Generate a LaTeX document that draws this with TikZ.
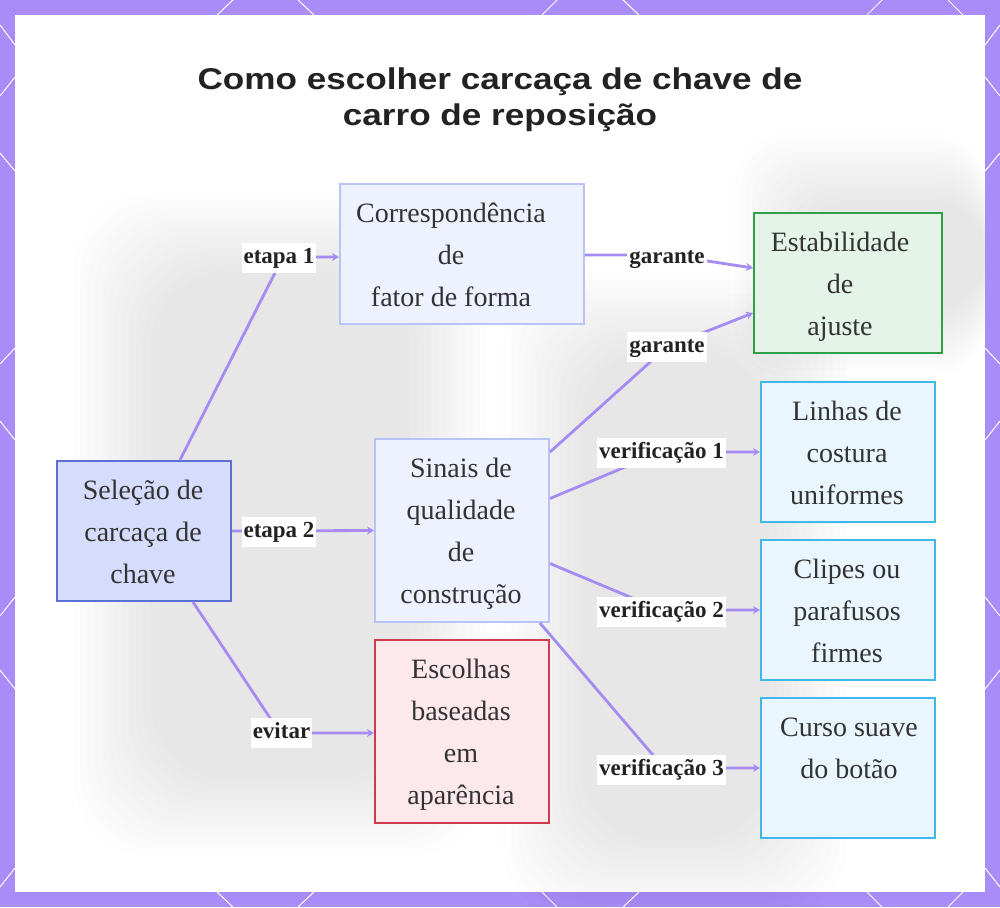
\documentclass[tikz,border=0pt]{standalone}
\usepackage{fontspec}
\usepackage{graphicx}
\setmainfont{Liberation Serif}
\newfontfamily\sansf{Liberation Sans}
\usetikzlibrary{arrows.meta,calc}
\definecolor{bord}{HTML}{A98CF8}
\definecolor{edgec}{HTML}{A58BF2}
\definecolor{aFill}{HTML}{D6DCFB}
\definecolor{aDraw}{HTML}{5B6FD6}
\definecolor{bFill}{HTML}{EEF1FE}
\definecolor{bDraw}{HTML}{BAC3F7}
\definecolor{cFill}{HTML}{E5F4E8}
\definecolor{cDraw}{HTML}{2FA04A}
\definecolor{eFill}{HTML}{FDE9EC}
\definecolor{eDraw}{HTML}{D03A4D}
\definecolor{fFill}{HTML}{EAF6FD}
\definecolor{fDraw}{HTML}{41B8EA}
\definecolor{txtc}{HTML}{333333}
\definecolor{labc}{HTML}{222222}
\tikzset{
  bx/.style={draw, line width=2pt, inner sep=0pt},
  bxA/.style={bx, fill=aFill, draw=aDraw, minimum width=174pt, minimum height=140pt},
  bxB/.style={bx, fill=bFill, draw=bDraw},
  bxC/.style={bx, fill=cFill, draw=cDraw, minimum width=188pt, minimum height=140pt},
  bxE/.style={bx, fill=eFill, draw=eDraw, minimum width=174pt, minimum height=183pt},
  bxF/.style={bx, fill=fFill, draw=fDraw, minimum width=174pt, minimum height=140pt},
  btxt/.style={anchor=north, align=center, inner sep=0pt, font=\fontsize{28}{42}\selectfont, text=txtc},
  lab/.style={fill=white, inner xsep=2pt, inner ysep=4.5pt, text height=16pt, text depth=5pt, font=\bfseries\fontsize{23}{23}\selectfont, text=labc},
  conn/.style={draw=edgec, line width=2.8pt, -{Stealth[length=7pt,width=8pt]}},
  hexl/.style={draw=white, line width=1pt},
  blob/.style={fill=black, opacity=0.006},
}
\begin{document}
\begin{tikzpicture}[x=1pt,y=-1pt]
\useasboundingbox (0,0) rectangle (1000,907);
% frame
\fill[bord] (0,0) rectangle (1000,907);
\draw[hexl] (217,15)--(233,0) (298,0)--(314,15) (542,15)--(557,0) (623,0)--(639,15) (867,15)--(882,0) (948,0)--(963,15);
\draw[hexl] (217,892)--(233,907) (298,907)--(314,892) (542,892)--(557,907) (623,907)--(639,892) (867,892)--(882,907) (948,907)--(963,892);
\draw[hexl] (0,25)--(15,45) (0,96)--(15,77) (0,153)--(15,171) (0,364)--(15,348) (0,421)--(15,440) (0,616)--(15,597) (0,670)--(15,689) (0,887)--(15,868);
\draw[hexl] (1000,25)--(985,45) (1000,96)--(985,77) (1000,153)--(985,171) (1000,364)--(985,348) (1000,421)--(985,440) (1000,616)--(985,597) (1000,670)--(985,689) (1000,887)--(985,868);
\fill[white] (15,15) rectangle (985,892);
% faint background
\foreach \i in {0,...,11} {
  \fill[blob, rounded corners=80pt] (150-\i*7,270-\i*7) rectangle (410+\i*7,780+\i*7);
  \fill[blob, rounded corners=70pt] (580-\i*7,350-\i*7) rectangle (770+\i*7,840+\i*7);
  \fill[blob, rounded corners=50pt] (800-\i*6,200-\i*6) rectangle (985,310+\i*6);
}
% title
\node[anchor=north, align=center, inner sep=0pt, text=labc, font=\sansf\bfseries\fontsize{30}{36}\selectfont] (title) at (500,63.8)
  {\strut\scalebox{1.17}[1]{Como escolher carcaça de chave de}\\\scalebox{1.17}[1]{carro de reposição}};
% boxes
\node[bxA] (sel) at (144,531) {};
\node[bxB, minimum width=244pt, minimum height=140pt] (corr) at (462,254) {};
\node[bxC] (est) at (848,283) {};
\node[bxB, minimum width=174pt, minimum height=183pt] (sd) at (462,530.5) {};
\node[bxE] (esc) at (462,731.5) {};
\node[bxF] (lin) at (848,452) {};
\node[bxF] (cli) at (848,610) {};
\node[bxF] (cur) at (848,768) {};
% box texts
\node[btxt] (selt) at (143,469.6) {\strut Seleção de\\carcaça de\\chave};
\node[btxt] (corrt) at (451,192.6) {\strut Correspondência\\de\\fator de forma};
\node[btxt] (estt) at (840,221.6) {\strut Estabilidade\\de\\ajuste};
\node[btxt] (sdt) at (461,447.6) {\strut Sinais de\\qualidade\\de\\construção};
\node[btxt] (esct) at (461,648.6) {\strut Escolhas\\baseadas\\em\\aparência};
\node[btxt] (lint) at (847,390.6) {\strut Linhas de\\costura\\uniformes};
\node[btxt] (clit) at (847,548.6) {\strut Clipes ou\\parafusos\\firmes};
\node[btxt] (curt) at (849,706.6) {\strut Curso suave\\do botão};
% connectors
\coordinate (k1) at (283,257);
\coordinate (k3) at (280,733);
\coordinate (k4) at (668,255);
\coordinate (k5) at (667,347);
\coordinate (k6) at (661,452);
\coordinate (k7) at (661,610);
\coordinate (k8) at (664,768);
\draw[conn] ([xshift=36pt]sel.north) -- (k1) -- (corr.west |- k1);
\draw[conn] (sel.east) -- (sd.west);
\draw[conn] ([xshift=49pt]sel.south) -- (k3) -- (esc.west |- k3);
\draw[conn] (corr.east |- k4) -- (k4) -- ([yshift=15pt]est.west);
\draw[conn] ([yshift=-14pt]sd.north east) -- (k5) -- ([yshift=-30pt]est.west);
\draw[conn] ([yshift=32pt]sd.east) -- (k6) -- (lin.west);
\draw[conn] ([yshift=-33pt]sd.east) -- (k7) -- (cli.west);
\draw[conn] ([xshift=78pt]sd.south) -- (k8) -- (cur.west);
% labels
\node[lab] (l1) at (279,258) {etapa 1};
\node[lab] (l2) at (279,532) {etapa 2};
\node[lab] (l3) at (281.5,733) {evitar};
\node[lab] (l4) at (667,258) {garante};
\node[lab] (l5) at (667,347) {garante};
\node[lab] (l6) at (661.5,453) {verificação 1};
\node[lab] (l7) at (661.5,612) {verificação 2};
\node[lab] (l8) at (661.5,770) {verificação 3};
\end{tikzpicture}
\end{document}
